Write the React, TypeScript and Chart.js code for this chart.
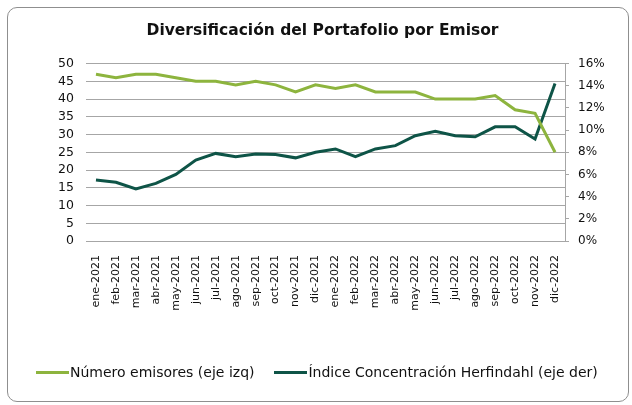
import React, { useEffect, useRef } from "react";
import { Chart, registerables } from "chart.js";

Chart.register(...registerables);

const categories = [
  "ene-2021", "feb-2021", "mar-2021", "abr-2021", "may-2021", "jun-2021",
  "jul-2021", "ago-2021", "sep-2021", "oct-2021", "nov-2021", "dic-2021",
  "ene-2022", "feb-2022", "mar-2022", "abr-2022", "may-2022", "jun-2022",
  "jul-2022", "ago-2022", "sep-2022", "oct-2022", "nov-2022", "dic-2022",
];

const numeroEmisores = [47, 46, 47, 47, 46, 45, 45, 44, 45, 44, 42, 44, 43, 44, 42, 42, 42, 40, 40, 40, 41, 37, 36, 25];

const indiceHerfindahl = [5.5, 5.3, 4.7, 5.2, 6.0, 7.3, 7.9, 7.6, 7.85, 7.8, 7.5, 8.0, 8.3, 7.6, 8.3, 8.6, 9.5, 9.9, 9.5, 9.4, 10.3, 10.3, 9.2, 14.2];

const leftTicks = [0, 5, 10, 15, 20, 25, 30, 35, 40, 45, 50];

const seriesNames = ["Número emisores (eje izq)", "Índice Concentración Herfindahl (eje der)"];
const seriesColors = ["#8db43e", "#0e5447"];
const titleText = "Diversificación del Portafolio por Emisor";

const FONT = "'DejaVu Sans', sans-serif";

export default function App() {
  const canvasRef = useRef<HTMLCanvasElement | null>(null);

  useEffect(() => {
    if (!canvasRef.current) return;
    const chart = new Chart(canvasRef.current, {
      type: "line",
      data: {
        labels: categories,
        datasets: [
          {
            label: seriesNames[0],
            data: numeroEmisores,
            borderColor: seriesColors[0],
            backgroundColor: seriesColors[0],
            borderWidth: 3,
            pointRadius: 0,
            tension: 0,
            yAxisID: "y",
          },
          {
            label: seriesNames[1],
            data: indiceHerfindahl,
            borderColor: seriesColors[1],
            backgroundColor: seriesColors[1],
            borderWidth: 3,
            pointRadius: 0,
            tension: 0,
            yAxisID: "y1",
          },
        ],
      },
      options: {
        responsive: false,
        animation: false,
        layout: { padding: { left: 13, right: 0, top: 0, bottom: 0 } },
        plugins: {
          legend: { display: false },
          tooltip: { enabled: false },
          title: {
            display: true,
            text: titleText,
            color: "#111",
            font: { family: FONT, size: 15.5, weight: "bold" },
            padding: { top: 22, bottom: 23 },
          },
        },
        scales: {
          x: {
            offset: true,
            grid: { display: false },
            border: { display: false },
            ticks: {
              minRotation: 90,
              maxRotation: 90,
              autoSkip: false,
              padding: 6,
              color: "#111",
              font: { family: FONT, size: 11 },
            },
            afterFit: (scale: any) => {
              scale.height = 164;
            },
          },
          y: {
            position: "left",
            min: 0,
            max: 50,
            grid: { color: "#a6a6a6", lineWidth: 1, drawTicks: false },
            border: { display: false },
            afterBuildTicks: (scale: any) => {
              scale.ticks = leftTicks.map((v) => ({ value: v }));
            },
            ticks: {
              stepSize: 5,
              padding: 12,
              color: "#111",
              font: { family: FONT, size: 12.5, lineHeight: 1 },
            },
            afterFit: (scale: any) => {
              scale.width = 73;
            },
          },
          y1: {
            position: "right",
            min: 0,
            max: 16,
            grid: { drawOnChartArea: false, drawTicks: true, tickLength: 4, color: "#a6a6a6" },
            border: { display: true, color: "#a6a6a6", width: 1 },
            ticks: {
              stepSize: 2,
              padding: 9,
              color: "#111",
              font: { family: FONT, size: 12 },
              callback: (v: any) => `${v}%`,
            },
            afterFit: (scale: any) => {
              scale.width = 67;
            },
          },
        },
      },
    });
    return () => chart.destroy();
  }, []);

  const legendItem = (i: number) => (
    <div key={i} style={{ display: "flex", alignItems: "center" }}>
      <span style={{ display: "inline-block", width: 33, height: 3, background: seriesColors[i], marginRight: 1 }} />
      <span>{seriesNames[i]}</span>
    </div>
  );

  return (
    <div style={{ position: "fixed", left: 0, top: 0, width: 632, height: 405, background: "#fff" }}>
      <div
        style={{
          position: "absolute",
          left: 7,
          top: 7,
          width: 622,
          height: 395,
          border: "1px solid #8f8f8f",
          borderRadius: 10,
          boxSizing: "border-box",
        }}
      />
      <canvas ref={canvasRef} width={632} height={405} style={{ position: "absolute", left: 0, top: 0, width: 632, height: 405 }} />
      <div
        style={{
          position: "absolute",
          left: 36,
          top: 363,
          display: "flex",
          gap: 20,
          fontFamily: FONT,
          fontSize: 14,
          color: "#111",
          lineHeight: "18px",
        }}
      >
        {legendItem(0)}
        {legendItem(1)}
      </div>
    </div>
  );
}
